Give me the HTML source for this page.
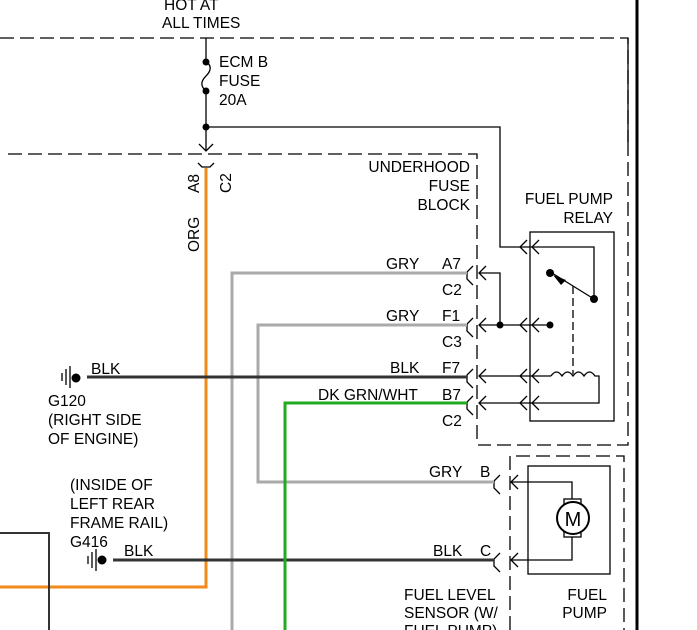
<!DOCTYPE html>
<html><head><meta charset="utf-8"><style>
html,body{margin:0;padding:0;background:#fff;}
svg{display:block;}
text{font-family:"Liberation Sans",sans-serif;font-size:15.5px;fill:#000;}
</style></head><body>
<svg width="697" height="630" viewBox="0 0 697 630" xmlns="http://www.w3.org/2000/svg">
<g fill="none" stroke="#000" stroke-width="1.3">
<path d="M0 38 H628 V142" stroke-dasharray="14 6"/>
<path d="M628 38 V142"/>
<path d="M628 142 V445 H478" stroke-dasharray="14 6"/>
<path d="M8 154 H477 V445" stroke-dasharray="14 6"/>
<path d="M510 630 V456 H624 V630" stroke-dasharray="14 6"/>
</g>
<line x1="637" y1="0" x2="637" y2="630" stroke="#000" stroke-width="3"/>

<g fill="none" stroke="#000" stroke-width="1.3">
<path d="M206 38 V62 M206 91 V150"/>
<path d="M206 62 C213 66,210 72,206 76 C201 81,200 86,206 91"/>
<path d="M206 127 H500 V247 H532"/>
<path d="M199 144 L206 151 L213 144"/>
<path d="M198 163 L202 167 H210 L214 163"/>
<rect x="530" y="232" width="84" height="189"/>
<path d="M532 247 H594 V299"/>
<path d="M594 299 L552 273"/>
<path d="M573 286 V374" stroke-dasharray="8 4"/>
<path d="M479 273 H500 V325"/>
<path d="M480 325 H550"/>
<path d="M480 376 H551"/>
<path d="M551 376 q5.5 -8 11 0 q5.5 -8 11 0 q5.5 -8 11 0 q5.5 -8 11 0 H599 V403 H480"/>
<path d="M473 266 L467 272 V279 L473 285"/>
<path d="M473 318 L467 324 V331 L473 337"/>
<path d="M473 369 L467 375 V382 L473 388"/>
<path d="M473 396 L467 402 V409 L473 415"/>
<path d="M500 475 L494 481 V488 L500 494"/>
<path d="M500 553 L494 559 V566 L500 572"/>
<path d="M486 266 L479 273 L486 280"/>
<path d="M486 318 L479 325 L486 332"/>
<path d="M486 369 L479 376 L486 383"/>
<path d="M486 396 L479 403 L486 410"/>
<path d="M527 240 L520 247 L527 254 M539 240 L532 247 L539 254"/>
<path d="M527 318 L520 325 L527 332 M539 318 L532 325 L539 332"/>
<path d="M527 369 L520 376 L527 383 M539 369 L532 376 L539 383"/>
<path d="M527 396 L520 403 L527 410 M539 396 L532 403 L539 410"/>
<path d="M518 475 L511 482 L518 489 M518 553 L511 560 L518 567"/>
<rect x="528" y="466" width="82" height="108"/>
<path d="M512 482 H572 V499 M572 537 V560 H512"/>
<rect x="564" y="499" width="17" height="6"/>
<rect x="564" y="531" width="17" height="6"/>
<circle cx="573" cy="518" r="16" stroke-width="2" fill="#fff"/>
<path d="M62 373 V381 M66 369 V385 M70 366 V388"/>
<path d="M88 556 V564 M92 552 V568 M96 549 V571"/>
</g>
<text x="573" y="526" text-anchor="middle" style="font-size:20px">M</text>
<polygon points="553,275 566,280 561,285" fill="#000"/>
<g fill="#000">
<circle cx="206" cy="62" r="3.5"/><circle cx="206" cy="91" r="3.5"/><circle cx="206" cy="127" r="3.5"/>
<circle cx="550" cy="273" r="4"/><circle cx="594" cy="299" r="4"/>
<circle cx="500" cy="325" r="3.5"/><circle cx="550" cy="325" r="3.5"/>
<circle cx="76" cy="378" r="4.5"/><circle cx="102" cy="560" r="4.5"/>
</g>
<g fill="none" stroke-width="3">
<path d="M206 168 V587 H0" stroke="#f28a1c"/>
<path d="M232 630 V273 H467" stroke="#aaa"/>
<path d="M467 325 H258 V482 H494" stroke="#aaa"/>
<path d="M87 377 H467" stroke="#333"/>
<path d="M113 560 H494" stroke="#333"/>
<path d="M285 630 V403 H467" stroke="#22aa22"/>
<path d="M0 533 H49 V630" stroke="#333" stroke-width="2"/>
</g>
<text x="164" y="10">HOT AT</text>
<text x="162" y="28">ALL TIMES</text>
<text x="219" y="67">ECM B</text>
<text x="219" y="86">FUSE</text>
<text x="219" y="105">20A</text>
<text transform="translate(199,193) rotate(-90)">A8</text>
<text transform="translate(231,193) rotate(-90)">C2</text>
<text transform="translate(199,252) rotate(-90)">ORG</text>
<g text-anchor="end">
<text x="470" y="172">UNDERHOOD</text>
<text x="470" y="191">FUSE</text>
<text x="470" y="210">BLOCK</text>
<text x="613" y="204">FUEL PUMP</text>
<text x="613" y="223">RELAY</text>
<text x="607" y="600">FUEL</text>
<text x="607" y="618">PUMP</text>
</g>
<text x="386" y="269">GRY</text><text x="442" y="269">A7</text><text x="442" y="295">C2</text>
<text x="386" y="321">GRY</text><text x="442" y="321">F1</text><text x="442" y="347">C3</text>
<text x="390" y="373">BLK</text><text x="442" y="373">F7</text>
<text x="318" y="400">DK GRN/WHT</text><text x="442" y="400">B7</text><text x="442" y="426">C2</text>
<text x="429" y="477">GRY</text><text x="480" y="477">B</text>
<text x="433" y="556">BLK</text><text x="480" y="556">C</text>
<text x="404" y="600">FUEL LEVEL</text>
<text x="404" y="618">SENSOR (W/</text>
<text x="404" y="636">FUEL PUMP)</text>
<text x="91" y="374">BLK</text>
<text x="48" y="406">G120</text>
<text x="48" y="425">(RIGHT SIDE</text>
<text x="48" y="444">OF ENGINE)</text>
<text x="70" y="490">(INSIDE OF</text>
<text x="70" y="509">LEFT REAR</text>
<text x="70" y="528">FRAME RAIL)</text>
<text x="70" y="547">G416</text>
<text x="124" y="556">BLK</text>
</svg>
</body></html>
